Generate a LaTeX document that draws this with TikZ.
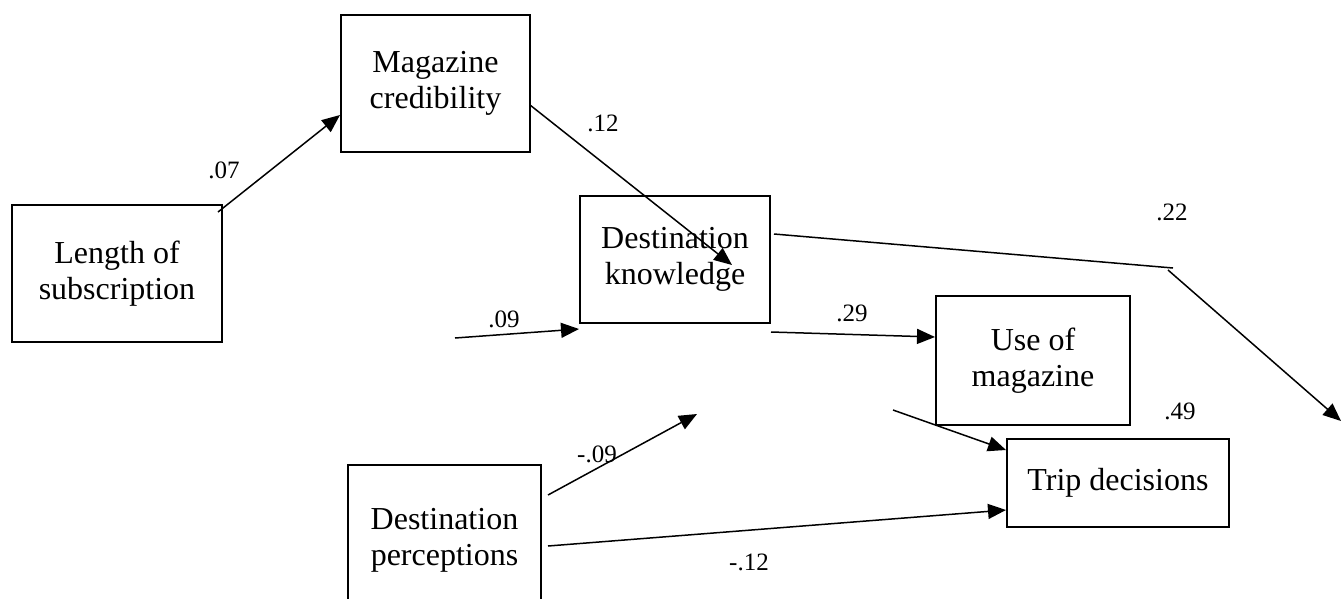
\documentclass[tikz,border=0pt]{standalone}
\usepackage{fontspec}
\setmainfont{Liberation Serif}
\usetikzlibrary{arrows.meta}
\tikzset{
  boxnode/.style={draw, line width=2pt, inner sep=0pt, align=center, font=\fontsize{32}{36}\selectfont},
  wlabel/.style={inner sep=0pt, font=\fontsize{25}{28}\selectfont},
  conn/.style={line width=1.5pt},
  arr/.style={conn, -{Triangle[length=18pt,width=15pt]}}
}
\begin{document}
\begin{tikzpicture}[x=1pt,y=-1pt]
\useasboundingbox (0,0) rectangle (1341,598);
\clip (0,0) rectangle (1341,598);
% boxes
\node[boxnode, minimum width=210pt, minimum height=137pt] (len) at (117,273.5) {Length of\\subscription};
\node[boxnode, minimum width=189pt, minimum height=137pt] (mag) at (435.5,83.5) {Magazine\\credibility};
\node[boxnode, minimum width=190pt, minimum height=127pt] (dk) at (675,259.5) {Destination\\knowledge};
\node[boxnode, minimum width=194pt, minimum height=129pt] (uom) at (1033,360.5) {Use of\\magazine};
\node[boxnode, minimum width=222pt, minimum height=88pt] (td) at (1118,483) {Trip decisions};
\node[boxnode, minimum width=193pt, minimum height=150pt] (dp) at (444.5,540) {Destination\\perceptions};
% free ends
\coordinate (a07) at (218,212);
\coordinate (a12) at (530,105);
\coordinate (b12) at (732,265);
\coordinate (a22) at (774,234);
\coordinate (b22) at (1173,268);
\coordinate (c22) at (1168,270);
\coordinate (d22) at (1341,421);
\coordinate (a09) at (455,338);
\coordinate (a29) at (771,332);
\coordinate (a49) at (893,410);
\coordinate (am09) at (548,495);
\coordinate (bm09) at (697,414);
\coordinate (am12) at (548,546);
% connectors
\draw[arr] (a07) -- ([yshift=-31.5pt]mag.west);
\draw[arr] (a12) -- (b12);
\draw[conn] (a22) -- (b22);
\draw[arr] (c22) -- (d22);
\draw[arr] (a09) -- ([yshift=-69.5pt]dk.west);
\draw[arr] (a29) -- ([yshift=23.5pt]uom.west);
\draw[arr] (a49) -- ([yshift=33pt]td.west);
\draw[arr] (am09) -- (bm09);
\draw[arr] (am12) -- ([yshift=-27pt]td.west);
% labels
\node[wlabel] (l07) at (224,170) {.07};
\node[wlabel] (l12) at (603,123) {.12};
\node[wlabel] (l22) at (1172,212) {.22};
\node[wlabel] (l09) at (504,319) {.09};
\node[wlabel] (l29) at (852,313) {.29};
\node[wlabel] (l49) at (1180,411) {.49};
\node[wlabel] (lm09) at (597,454) {-.09};
\node[wlabel] (lm12) at (749,562) {-.12};
\end{tikzpicture}
\end{document}
